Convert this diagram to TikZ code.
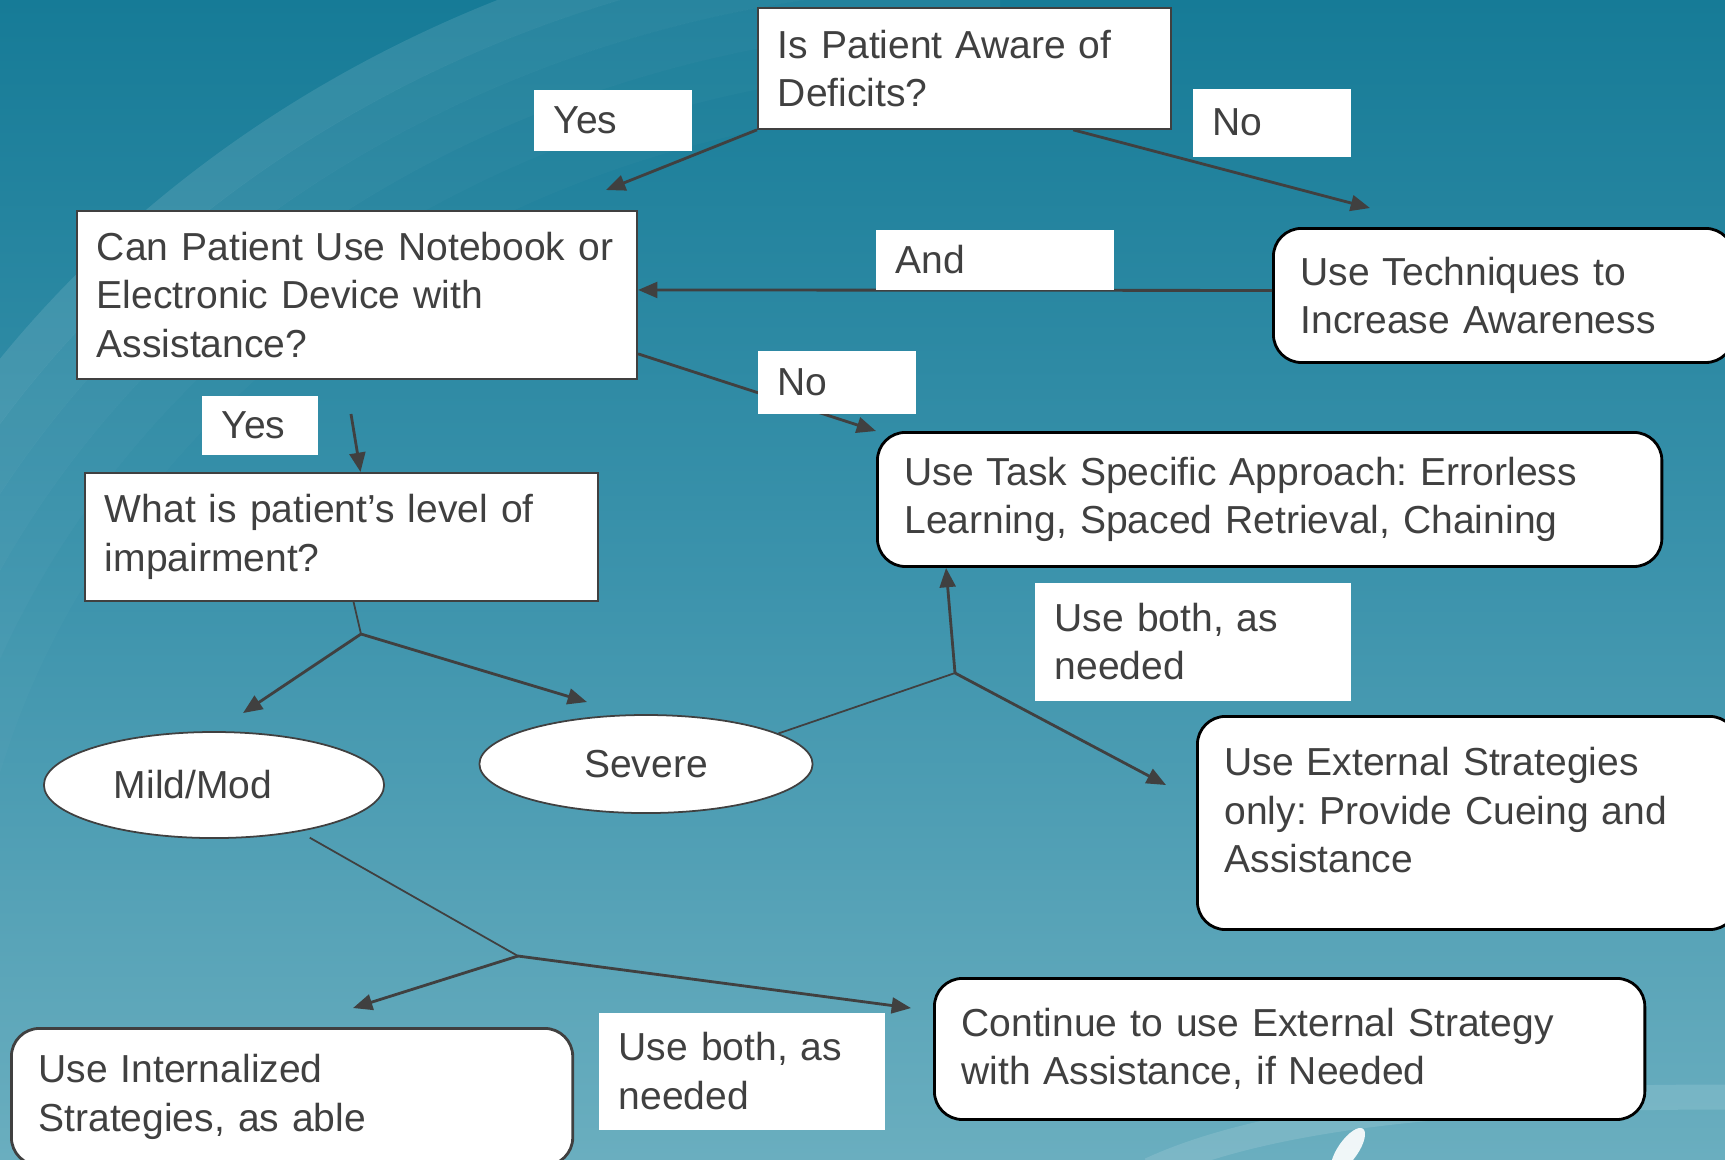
\documentclass[tikz,border=0pt]{standalone}
\usepackage{fontspec}
\setmainfont{Liberation Sans}
\usetikzlibrary{shapes, arrows.meta}
\definecolor{bgtop}{HTML}{167B97}
\definecolor{bgmid}{HTML}{3C93AC}
\definecolor{bgbot}{HTML}{6AAEBF}
\definecolor{ink}{HTML}{404040}

\begin{document}
\begin{tikzpicture}[x=0.01cm, y=-0.01cm, font=\fontsize{11.1}{13.8}\selectfont\frenchspacing, text=ink]
        \tikzstyle{block} = [rectangle, draw=ink, fill=white, line width=0.5pt, anchor=north west, align=left, inner xsep=0.2cm, inner ysep=0pt]
        \tikzstyle{rblock} = [block, draw=black, line width=0.8pt, rounded corners=0.28cm, inner xsep=0.27cm]
        \tikzstyle{tag} = [rectangle, fill=white, anchor=north west, align=left, inner xsep=0.2cm, inner ysep=0pt]
        \tikzstyle{oval} = [ellipse, draw=ink, fill=white, line width=0.5pt, inner sep=0pt]
        \tikzstyle{line} = [draw=ink, line width=0.8pt, -{Triangle[length=5.5pt, width=4.5pt]}]
        \tikzstyle{stem} = [draw=ink, line width=0.5pt]

        \useasboundingbox (0,0) rectangle (1725,1159);
        \clip (0,0) rectangle (1725,1159);

        % backdrop
        \fill [top color=bgtop, bottom color=bgbot, middle color=bgmid] (0,0) rectangle (1725,1159);
        \begin{scope}
            \clip (0,0) rectangle (1000,1000);
            \foreach \d/\o in {0/0.11, 0.4/0.08, 0.8/0.06, 1.2/0.04, 1.6/0.02}
                \draw [white, opacity=\o, line width=0.4cm] (1000,1000) ellipse ({12.13cm-\d cm} and {10.74cm-\d cm});
        \end{scope}
        \draw [white, opacity=0.12, line width=0.25cm] (1150,1170) .. controls (1280,1110) and (1500,1097) .. (1725,1097);
        \fill [white, opacity=0.9, rotate around={55:(1348,1150)}] (1348,1150) ellipse (0.26cm and 0.1cm);

        % boxes
        \node (aware) [block, text width=3.73cm, minimum height=1.21cm] at (757,7) {Is Patient Aware of\\Deficits?};
        \node (notebook) [block, text width=5.2cm, minimum height=1.68cm] at (76,210) {Can Patient Use Notebook or\\Electronic Device with\\Assistance?};
        \node (techniques) [rblock, text width=4.06cm, minimum height=1.34cm] at (1272,227) {Use Techniques to\\Increase Awareness};
        \node (level) [block, text width=4.73cm, minimum height=1.28cm] at (84,472) {What is patient’s level of\\impairment?};
        \node (task) [rblock, text width=7.30cm, minimum height=1.34cm] at (876,431) {Use Task Specific Approach: Errorless\\Learning, Spaced Retrieval, Chaining};
        \node (external) [rblock, text width=4.86cm, minimum height=2.13cm, text depth=35pt] at (1196,715) {Use External Strategies\\only: Provide Cueing and\\Assistance};
        \node (internal) [rblock, draw=ink, text width=5.07cm, minimum height=1.37cm] at (10,1027) {Use Internalized\\Strategies, as able};
        \node (continue) [rblock, text width=6.56cm, minimum height=1.41cm] at (933,977) {Continue to use External Strategy\\with Assistance, if Needed};
        \node (mild) [oval, minimum width=3.4cm, minimum height=1.06cm, text width=2.0cm, align=left] at (214,785) {Mild/Mod};
        \node (severe) [oval, minimum width=3.33cm, minimum height=0.98cm] at (646,764) {Severe};

        \coordinate (yesAtip) at (606,190);
        \coordinate (noAtip) at (1370,208);
        \coordinate (yesBfrom) at (351,414);
        \coordinate (levelfork) at (361,634);
        \coordinate (mildtip) at (243,713);
        \coordinate (severetip) at (587,702);
        \coordinate (severefork) at (955,673);
        \coordinate (externaltip) at (1166,785);
        \coordinate (mildfork) at (518,956);
        \coordinate (internaltip) at (353,1008);
        \coordinate (continuetip) at (911,1008);

        \draw [line] (aware.south west) -- (yesAtip);
        \draw [line] ([xshift=3.16cm]aware.south west) -- (noAtip);
        \draw [line] ([yshift=0.05cm]techniques.west) -- ([yshift=0.05cm]notebook.east);
        \draw [line] ([yshift=0.26cm]notebook.south east) -- (task.north west);
        \draw [line] (yesBfrom) -- ([xshift=0.19cm]level.north);
        \draw [stem] ([xshift=0.12cm]level.south) -- (levelfork);
        \draw [line] (levelfork) -- (mildtip);
        \draw [line] (levelfork) -- (severetip);
        \draw [stem] (severe.13) -- (severefork);
        \draw [line] (severefork) -- ([xshift=0.7cm]task.south west);
        \draw [line] (severefork) -- (externaltip);
        \draw [stem] ([yshift=-0.08cm]mild.-25) -- (mildfork);
        \draw [line] (mildfork) -- (internaltip);
        \draw [line] (mildfork) -- (continuetip);

        % answers on the branches
        \node (yesA) [tag, text width=1.18cm, minimum height=0.61cm] at (533,89) {Yes};
        \node (noA) [tag, text width=1.18cm, minimum height=0.68cm] at (1192,88) {No};
        \node (and) [tag, text width=1.98cm, minimum height=0.60cm] at (875,229) {And};
        \node (noB) [tag, text width=1.18cm, minimum height=0.63cm] at (757,350) {No};
        \node (yesB) [tag, text width=0.76cm, minimum height=0.59cm] at (201,395) {Yes};
        \node (bothA) [tag, text width=2.76cm, minimum height=1.18cm] at (1034,582) {Use both, as\\needed};
        \node (bothB) [tag, text width=2.46cm, minimum height=1.17cm] at (598,1012) {Use both, as\\needed};
\end{tikzpicture}
\end{document}
